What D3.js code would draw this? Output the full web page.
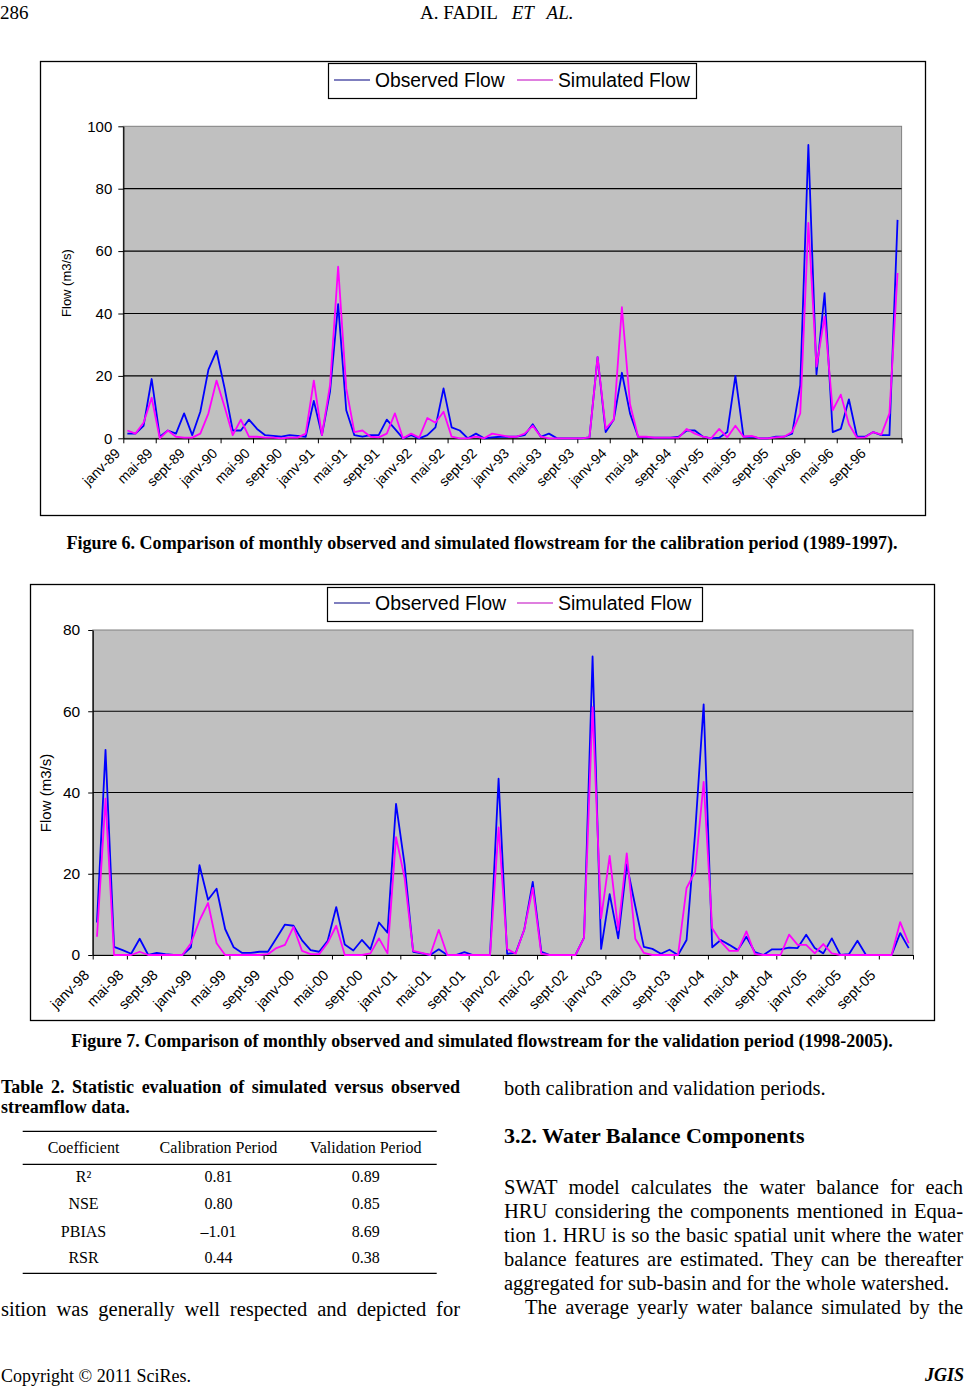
<!DOCTYPE html>
<html>
<head>
<meta charset="utf-8">
<script src="https://cdn.jsdelivr.net/npm/d3@7"></script>
<style>
  body { margin: 0; background: #fff; }
  svg { display: block; }
  .serif { font-family: "Liberation Serif", "Times New Roman", serif; }
  .sans { font-family: "Liberation Sans", Arial, sans-serif; }
</style>
</head>
<body>
<svg id="page" width="965" height="1386"></svg>
<script>
// Months shown on the category axes
const monthNames = ['janv', 'févr', 'mars', 'avr', 'mai', 'juin', 'juil', 'août', 'sept', 'oct', 'nov', 'déc'];
const years1 = ['89', '90', '91', '92', '93', '94', '95', '96'];
const years2 = ['98', '99', '00', '01', '02', '03', '04', '05'];
const months1 = years1.flatMap(y => monthNames.map(m => `${m}-${y}`));
const months2 = years2.flatMap(y => monthNames.map(m => `${m}-${y}`));

const tickLabels1 = ['janv-89', 'mai-89', 'sept-89', 'janv-90', 'mai-90', 'sept-90', 'janv-91', 'mai-91',
  'sept-91', 'janv-92', 'mai-92', 'sept-92', 'janv-93', 'mai-93', 'sept-93', 'janv-94', 'mai-94', 'sept-94',
  'janv-95', 'mai-95', 'sept-95', 'janv-96', 'mai-96', 'sept-96'];
const tickLabels2 = ['janv-98', 'mai-98', 'sept-98', 'janv-99', 'mai-99', 'sept-99', 'janv-00', 'mai-00',
  'sept-00', 'janv-01', 'mai-01', 'sept-01', 'janv-02', 'mai-02', 'sept-02', 'janv-03', 'mai-03', 'sept-03',
  'janv-04', 'mai-04', 'sept-04', 'janv-05', 'mai-05', 'sept-05'];

const yTicks1 = [0, 20, 40, 60, 80, 100];
const yTicks2 = [0, 20, 40, 60, 80];
const legendLabels = ['Observed Flow', 'Simulated Flow'];

// Calibration period 1989-1996, monthly flow (m3/s)
const observed1 = [
  1.5, 1.5, 4, 19, 0.5, 2.5, 1.5, 8, 1, 8.5, 22, 28,
  16, 2.5, 2.5, 6, 3, 1, 0.8, 0.5, 1, 0.8, 0.5, 12,
  1, 15, 43, 9, 1, 0.5, 1, 1, 6, 3, 0, 1,
  0, 1, 3.5, 16, 3.5, 2.5, 0, 1.5, 0, 0.3, 0.5, 0.5,
  0.5, 1, 4.5, 0.5, 1.5, 0, 0, 0, 0, 0.3, 26, 2,
  6, 21, 8, 0.5, 0.3, 0.2, 0.2, 0.2, 0.5, 2.5, 2.5, 0.5,
  0, 0.2, 2, 20, 0.5, 0.5, 0, 0, 0.5, 0.5, 1.5, 17,
  94, 20.5, 46.5, 2, 3, 12.5, 0.5, 0.5, 2, 1, 1, 70
];
const simulated1 = [
  2.5, 1.5, 5, 13, 0, 2.5, 0.5, 0.2, 0.2, 1.5, 8, 18.5,
  10, 1, 6, 0.5, 0.5, 0.2, 0.2, 0, 0.2, 0.2, 1.5, 18.5,
  1, 17, 55, 16, 2, 2.5, 0.5, 0.3, 1.5, 8, 0, 1.5,
  0.2, 6.5, 5, 8.5, 0.5, 0, 0, 0.5, 0, 1.5, 1, 0.5,
  0.5, 1.5, 4, 0.5, 0, 0, 0, 0, 0, 0.3, 26, 3,
  6, 42, 11, 0.5, 0.5, 0.2, 0.2, 0.2, 0.2, 3, 1.5, 0.5,
  0, 3, 0.3, 4, 0.5, 0.8, 0, 0, 0.3, 0.5, 2, 8,
  69, 23, 39, 9, 14, 4.5, 0.2, 0.3, 2, 1.2, 8, 53
];

// Validation period 1998-2005, monthly flow (m3/s)
const observed2 = [
  8, 50.5, 2, 1.2, 0.3, 4, 0, 0.5, 0.2, 0, 0, 1.9,
  22.1, 13.6, 16.3, 6.4, 1.9, 0.5, 0.5, 0.8, 0.8, 4.1, 7.5, 7.2,
  3.6, 1.2, 0.8, 3.5, 11.8, 2.6, 1.1, 3.7, 1.4, 8, 5.5, 37.2,
  22.3, 0.8, 0.4, 0, 1.4, 0, 0, 0.7, 0, 0, 0, 43.4,
  0.3, 0.5, 6.2, 18, 0.8, 0, 0, 0, 0, 4.3, 73.5, 1.5,
  15, 4.1, 22.3, 12, 2, 1.5, 0.3, 1.3, 0, 3.7, 30, 61.7,
  1.9, 3.7, 2.5, 1.2, 4.5, 0.7, 0, 1.4, 1.4, 1.8, 1.7, 5,
  1.7, 0.4, 4.1, 0, 0.2, 3.5, 0, 0, 0, 0, 5.4, 1.7
];
const simulated2 = [
  4.5, 38.5, 0, 0, 0, 0.8, 0, 0, 0, 0, 0, 2.9,
  8.5, 12.8, 2.9, 0, 0, 0, 0, 0, 0.2, 1.7, 2.5, 6.9,
  1, 0.2, 0.2, 3, 7.2, 0, 0, 0, 0.4, 4.1, 0.4, 29,
  19, 1, 0.5, 0, 6.2, 0, 0, 0, 0, 0, 0, 31.4,
  1.5, 0.3, 6.2, 16.5, 0.3, 0, 0, 0, 0, 4.3, 61, 9,
  24.4, 6.2, 25, 4, 0.5, 0, 0, 0, 0, 16.5, 20.5, 42.6,
  6.6, 3.3, 1, 1, 5.8, 0.2, 0, 0, 0, 5, 2.5, 2.5,
  0.4, 2.7, 0.4, 0, 0, 0, 0, 0, 0, 0, 8.1, 2.9
];

// Table 2
const tableHeader = ['Coefficient', 'Calibration Period', 'Validation Period'];
const coefficients = ['R²', 'NSE', 'PBIAS', 'RSR'];
const calibration = ['0.81', '0.80', '–1.01', '0.44'];
const validation = ['0.89', '0.85', '8.69', '0.38'];

const page = d3.select('#page');
page.append('rect').attr('width', 965).attr('height', 1386).attr('fill', '#fff');

function drawChart(o) {
  const [fx, fy, fw, fh] = o.frame;
  page.append('rect')
    .attr('x', fx + 0.5).attr('y', fy + 0.5).attr('width', fw).attr('height', fh)
    .attr('fill', '#fff').attr('stroke', '#000').attr('stroke-width', 1.3);
  const [px, py, w, h] = o.plot;
  const svg = page.append('g')
    .attr('class', 'sans')
    .attr('transform', `translate(${px},${py})`);
  const x = d3.scaleLinear().domain([0, o.months.length]).range([0, w]);
  const y = d3.scaleLinear().domain([0, o.yMax]).range([h, 0]);
  // Plot area and grid
  svg.append('rect').attr('width', w).attr('height', h)
    .attr('fill', '#c0c0c0').attr('stroke', '#808080');
  svg.append('g')
    .selectAll('line')
    .data(o.yTicks.filter(v => v > 0 && v < o.yMax))
    .join('line')
    .attr('x2', w)
    .attr('y1', d => y(d)).attr('y2', d => y(d))
    .attr('stroke', '#000').attr('stroke-width', 1.2);
  // Axes
  const yAxis = svg.append('g')
    .call(d3.axisLeft(y).tickValues(o.yTicks).tickSize(o.tick).tickSizeOuter(0).tickPadding(o.yPad));
  const xAxis = svg.append('g')
    .attr('transform', `translate(0,${h})`)
    .call(d3.axisBottom(x)
      .tickValues(d3.range(0, o.months.length + 1, 4))
      .tickSize(o.tick).tickSizeOuter(0)
      .tickFormat(i => o.tickLabels[i / 4] || ''));
  for (const a of [yAxis, xAxis]) {
    a.attr('font-family', null).attr('font-size', null);
    a.select('.domain').attr('stroke', '#000').attr('stroke-width', 1.2);
    a.selectAll('.tick line').attr('stroke', '#000');
  }
  yAxis.selectAll('text').style('font-size', o.yFont + 'px').attr('fill', '#000');
  // Rotated month labels, ending just under each tick
  xAxis.selectAll('text')
    .style('font-size', o.xFont + 'px').attr('fill', '#000')
    .attr('text-anchor', 'end')
    .attr('x', o.xOff[0]).attr('y', o.xOff[1]).attr('dy', 0)
    .attr('transform', 'rotate(-45)');
  // Axis title
  svg.append('text')
    .attr('transform', `translate(${o.yTitle[0] - px},${o.yTitle[1] - py}) rotate(-90)`)
    .attr('text-anchor', 'middle').attr('dy', '0.35em')
    .style('font-size', o.yTitleFont + 'px')
    .text('Flow (m3/s)');
  // Series, simulated drawn over observed
  const line = d3.line().x((d, i) => x(i + 0.5)).y(d => y(d));
  [[o.obs, '#0000ff'], [o.sim, '#ff00ff']].forEach(([data, color]) => {
    svg.append('path').datum(data)
      .attr('d', line)
      .attr('fill', 'none').attr('stroke', color)
      .attr('stroke-width', 1.8).attr('stroke-linejoin', 'round');
  });
  // Legend
  const [lx, ly, lw, lh] = o.legend;
  const lg = page.append('g').attr('class', 'sans');
  lg.append('rect')
    .attr('x', lx + 0.5).attr('y', ly + 0.5).attr('width', lw).attr('height', lh)
    .attr('fill', '#fff').attr('stroke', '#000').attr('stroke-width', 1.2);
  const item = lg.selectAll('g.item')
    .data(legendLabels)
    .join('g').attr('class', 'item')
    .attr('transform', (_, i) => `translate(${o.legendX[i]},${ly + o.legendBase})`);
  item.append('line')
    .attr('x1', 0).attr('x2', 36).attr('y1', -7).attr('y2', -7)
    .attr('stroke', (_, i) => ['#000080', '#c000c0'][i]).attr('stroke-width', 1.2);
  item.append('text')
    .attr('x', 41)
    .style('font-size', o.legendFont + 'px')
    .text(d => d);
}

drawChart({
  frame: [40, 61, 885, 454], plot: [123.3, 126.3, 778.3, 312],
  months: months1, tickLabels: tickLabels1, yTicks: yTicks1, yMax: 100,
  obs: observed1, sim: simulated1,
  tick: 5, yPad: 6, yFont: 15, xFont: 14, xOff: [-13.2, 9.2],
  yTitle: [66.5, 283], yTitleFont: 13,
  legend: [328, 63, 368, 35], legendX: [334, 517], legendBase: 24, legendFont: 19.3
});
drawChart({
  frame: [30, 584, 904, 436], plot: [92.7, 630, 820.3, 325],
  months: months2, tickLabels: tickLabels2, yTicks: yTicks2, yMax: 80,
  obs: observed2, sim: simulated2,
  tick: 4.5, yPad: 8, yFont: 15.5, xFont: 14.5, xOff: [-17, 12.8],
  yTitle: [46, 793], yTitleFont: 15,
  legend: [327, 587, 375, 34], legendX: [334, 517], legendBase: 23, legendFont: 19.5
});

// Page text
function txt(x, y, s, o = {}) {
  const t = page.append('text')
    .attr('class', 'serif')
    .attr('x', x).attr('y', y)
    .style('font-size', (o.size || 20.5) + 'px')
    .attr('text-anchor', o.anchor || 'start')
    .text(s);
  if (o.bold) t.style('font-weight', 'bold');
  if (o.italic) t.style('font-style', 'italic');
  if (o.justify) {
    // spread the words over the column width
    const n = (s.match(/ /g) || []).length;
    const natural = t.node().getComputedTextLength();
    t.style('word-spacing', ((o.justify - natural) / n) + 'px');
  }
  if (o.fit) {
    const natural = t.node().getComputedTextLength();
    t.style('font-size', ((o.size || 20.5) * o.fit / natural) + 'px');
  }
  return t;
}

// Running header
txt(0, 19, '286', {size: 19});
const head = txt(420, 19, 'A. FADIL', {size: 19});
head.append('tspan').attr('dx', 14).style('font-style', 'italic').text('ET');
head.append('tspan').attr('dx', 14).style('font-style', 'italic').text('AL.');

// Figure captions
txt(482, 549, 'Figure 6. Comparison of monthly observed and simulated flowstream for the calibration period (1989-1997).',
  {size: 17, bold: true, anchor: 'middle', fit: 832});
txt(482, 1047, 'Figure 7. Comparison of monthly observed and simulated flowstream for the validation period (1998-2005).',
  {size: 17, bold: true, anchor: 'middle', fit: 822});

// Table 2
txt(1, 1093, 'Table 2. Statistic evaluation of simulated versus observed', {size: 18, bold: true, justify: 459});
txt(1, 1113, 'streamflow data.', {size: 18, bold: true});
const colX = [83.5, 218.5, 365.7];
const rule = y => page.append('line').attr('x1', 22.7).attr('x2', 436.7).attr('y1', y).attr('y2', y)
  .attr('stroke', '#000').attr('stroke-width', 1.3);
rule(1131.3); rule(1164.3); rule(1273.3);
tableHeader.forEach((s, i) => txt(colX[i], 1152.7, s, {size: 16, anchor: 'middle'}));
const rowY = [1182, 1209, 1236.5, 1263];
coefficients.forEach((c, r) => {
  [c, calibration[r], validation[r]].forEach((s, i) => txt(colX[i], rowY[r], s, {size: 16, anchor: 'middle'}));
});

// Body text
txt(1, 1316, 'sition was generally well respected and depicted for', {justify: 459});
txt(504, 1095, 'both calibration and validation periods.');
txt(504, 1143, '3.2. Water Balance Components', {size: 22, bold: true});
const para = [
  'SWAT model calculates the water balance for each',
  'HRU considering the components mentioned in Equa-',
  'tion 1. HRU is so the basic spatial unit where the water',
  'balance features are estimated. They can be thereafter'
];
const paraY = [1194, 1218, 1242, 1266, 1290, 1314];
para.forEach((s, i) => txt(504, paraY[i], s, {justify: 459}));
txt(504, paraY[4], 'aggregated for sub-basin and for the whole watershed.');
txt(525, paraY[5], 'The average yearly water balance simulated by the', {justify: 438});

// Footer
txt(1, 1381.5, 'Copyright © 2011 SciRes.', {size: 18});
txt(964, 1380.5, 'JGIS', {size: 18, bold: true, italic: true, anchor: 'end'});
</script>
</body>
</html>
